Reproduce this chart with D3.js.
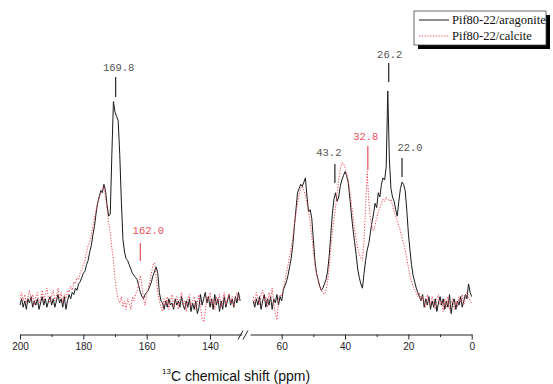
<!DOCTYPE html>
<html>
<head>
<meta charset="utf-8">
<script src="https://cdn.jsdelivr.net/npm/d3@7"></script>
<style>
  body { margin: 0; background: #fff; }
  svg { display: block; }
</style>
</head>
<body>
<svg id="chart" width="553" height="384"></svg>
<script>
// spectra sampled every 0.5 ppm; left block runs from 200 ppm down, right block ends at 0 ppm
const PPM_STEP = 0.5;
const LEFT_START = 200;

const aragoniteLeft = [
  -1, 2, -2, 1, -3, 2, 0, 3, -2, 1,
  -1, 2, -3, 0, 3, -1, 2, -2, 1, 3,
  -1, 2, -2, 1, 4, 0, 2, -2, 3, -3,
  1, 4, 2, 5, 4, 7, 6, 9, 10, 12,
  14, 15, 18, 20, 24, 27, 32, 36, 42, 47,
  50, 53, 52, 56, 53, 46, 41, 42, 70, 95,
  90, 88, 86, 70, 48, 30, 24, 21, 20, 18,
  16, 14, 13, 12, 11, 8, 5, 3, 2, 4,
  5, 6, 8, 10, 13, 15, 17, 14, 5, 1,
  0, -3, 1, -2, 2, -1, 0, -3, 2, -1,
  1, -2, 3, -1, -3, 1, -2, 2, -4, 0,
  -3, 1, -5, -2, 4, -1, 2, 5, 0, 3,
  -2, 2, -3, 4, -1, 2, -4, 1, -3, 3,
  -2, 1, 4, -1, 2, -2, 3, 0, 5, 1
];
const calciteLeft = [
  2, 5, 1, 4, 0, 3, 6, 1, 4, -1,
  3, 5, 0, 2, 6, 1, 4, 7, 2, 0,
  4, 6, 1, 3, 7, 2, 5, 0, 4, 2,
  6, 5, 8, 6, 10, 9, 12, 11, 14, 16,
  18, 20, 24, 27, 29, 32, 36, 40, 44, 47,
  50, 52, 54, 55, 50, 44, 38, 33, 26, 20,
  11, 6, 2, 0, 3, -2, 1, -3, 2, 0,
  -3, 3, 1, 4, 6, 9, 13, 8, 2, -1,
  4, 7, 10, 14, 18, 19, 12, 5, 1, -2,
  -4, 2, -1, 3, -3, 1, 4, -2, 0, 3,
  -3, 2, 5, -1, 1, -4, 2, 4, -2, 1,
  3, -3, 0, 4, -2, -7, -9, -4, 3, 1,
  5, -1, 2, -3, 3, 0, 4, -2, 1, 5,
  -1, 2, 4, 0, 3, -2, 2, 5, 1, 3
];
const aragoniteRight = [
  1, -2, 2, -1, 3, -3, 1, 4, -2, 2,
  -1, 3, -3, 2, 0, 4, -1, 3, 1, 6,
  8, 10, 13, 17, 21, 27, 36, 44, 52, 54,
  56, 55, 57, 59, 50, 43, 44, 40, 30, 20,
  14, 11, 8, 6, 7, 9, 11, 15, 22, 32,
  42, 49, 52, 48, 50, 55, 58, 60, 62, 60,
  57, 50, 42, 35, 29, 23, 16, 12, 9, 7,
  14, 20, 25, 28, 33, 38, 42, 47, 45, 52,
  50, 56, 59, 58, 64, 100, 68, 54, 50, 48,
  44, 41, 48, 54, 57, 56, 53, 44, 33, 25,
  18, 13, 10, 7, 5, 3, 1, 4, -2, 2,
  -1, 3, -3, 1, -2, 2, -4, 0, 3, -1,
  2, -3, 1, -2, 4, -5, 0, 2, -3, 1,
  -1, 3, -2, 1, 4, 2, 9, 5, 3
];
const calciteRight = [
  3, 0, 5, 2, -1, 4, 6, 1, 3, -2,
  5, 2, 7, 0, -5, -8, 2, 4, 3, 7,
  10, 14, 18, 22, 26, 31, 37, 42, 47, 51,
  54, 55, 53, 51, 47, 43, 38, 32, 24, 18,
  14, 11, 8, 6, 5, 4, 6, 10, 17, 26,
  33, 39, 45, 52, 58, 63, 66, 66, 64, 61,
  58, 53, 47, 41, 35, 30, 26, 23, 21, 20,
  30, 45, 62, 48, 40, 36, 34, 37, 40, 43,
  45, 47, 49, 48, 50, 49, 48, 49, 46, 43,
  41, 39, 36, 34, 31, 28, 25, 21, 17, 13,
  10, 8, 6, 5, 3, 5, 1, 3, 0, -2,
  4, 1, -1, 3, 0, -3, 2, 4, -1, 1,
  -4, 2, -2, 3, -3, 0, 2, -3, 1, -2,
  3, 0, 4, -1, 2, 5, 3, 1, 0
];

const leftTicks = [200, 180, 160, 140];
const leftMinor = [190, 170, 150];
const rightTicks = [60, 40, 20, 0];
const rightMinor = [50, 30, 10];

const peakPpm = [169.8, 162.0, 43.2, 32.8, 26.2, 22.0];
const peakLabels = ["169.8", "162.0", "43.2", "32.8", "26.2", "22.0"];
const peakSeries = ["aragonite", "calcite", "aragonite", "calcite", "aragonite", "aragonite"];

const legendLabels = ["Pif80-22/aragonite", "Pif80-22/calcite"];

// label placement (text offset, text baseline, marker line top/bottom)
const labelLayout = [
  { dx: 3, ty: 71, y1: 77, y2: 97 },
  { dx: 8, ty: 234, y1: 243, y2: 261 },
  { dx: -6, ty: 156, y1: 164, y2: 183 },
  { dx: -2, ty: 140, y1: 146, y2: 170 },
  { dx: 1, ty: 58, y1: 63, y2: 82 },
  { dx: 8, ty: 151, y1: 158, y2: 177 }
];

const colors = { aragonite: "#1a1a1a", calcite: "#ee4455" };
const axisY = 334.5;

const svg = d3.select("#chart");

const xLeft = d3.scaleLinear().domain([200, 130]).range([20, 241.7]);
const xRight = d3.scaleLinear().domain([70, 0]).range([250, 471.7]);
const y = d3.scaleLinear().domain([0, 100]).range([303, 91]);

function leftPoints(vals) {
  return vals.map((v, i) => [LEFT_START - i * PPM_STEP, v]);
}
function rightPoints(vals) {
  const n = vals.length;
  return vals.map((v, i) => [(n - 1 - i) * PPM_STEP, v]);
}

const lineL = d3.line().x(d => xLeft(d[0])).y(d => y(d[1]));
const lineR = d3.line().x(d => xRight(d[0])).y(d => y(d[1]));

const spectra = [
  { key: "aragonite", left: aragoniteLeft, right: aragoniteRight, dash: null },
  { key: "calcite", left: calciteLeft, right: calciteRight, dash: "1.2,1.6" }
];

const g = svg.append("g");
spectra.forEach(s => {
  g.append("path")
    .datum(leftPoints(s.left))
    .attr("d", lineL)
    .attr("fill", "none")
    .attr("stroke", colors[s.key])
    .attr("stroke-width", 1)
    .attr("stroke-dasharray", s.dash);
  g.append("path")
    .datum(rightPoints(s.right))
    .attr("d", lineR)
    .attr("fill", "none")
    .attr("stroke", colors[s.key])
    .attr("stroke-width", 1)
    .attr("stroke-dasharray", s.dash);
});

// x axes (two blocks with a break)
function drawAxis(scale, major, minor) {
  const ax = svg.append("g").attr("transform", "translate(0," + axisY + ")");
  ax.call(d3.axisBottom(scale).tickValues(major).tickSize(5).tickSizeOuter(0).tickPadding(3))
  ax.append("g").call(d3.axisBottom(scale).tickValues(minor).tickSize(2.5).tickFormat(""))
    .select(".domain").remove();
  ax.selectAll("text")
    .attr("font-family", "Liberation Sans, Arial, sans-serif")
    .attr("font-size", 10)
    .attr("fill", "#222");
  ax.selectAll("line, path").attr("stroke", "#222");
}
drawAxis(xLeft, leftTicks, leftMinor);
drawAxis(xRight, rightTicks, rightMinor);

// break marks
[240, 245].forEach(bx => {
  svg.append("line")
    .attr("x1", bx - 2).attr("y1", axisY + 5)
    .attr("x2", bx + 3).attr("y2", axisY - 4)
    .attr("stroke", "#222").attr("stroke-width", 1);
});

// axis title
const title = svg.append("text")
  .attr("x", 162).attr("y", 381)
  .attr("font-family", "Liberation Sans, Arial, sans-serif")
  .attr("font-size", 14)
  .attr("fill", "#111");
title.append("tspan").attr("font-size", 8).attr("dy", -7).text("13");
title.append("tspan").attr("dy", 7).text("C chemical shift (ppm)");

// peak labels
peakPpm.forEach((p, i) => {
  const px = p > 100 ? xLeft(p) : xRight(p);
  const L = labelLayout[i];
  const c = peakSeries[i] === "calcite" ? "#e8505e" : "#222";
  svg.append("line")
    .attr("x1", px).attr("x2", px)
    .attr("y1", L.y1).attr("y2", L.y2)
    .attr("stroke", c).attr("stroke-width", 1.2);
  svg.append("text")
    .attr("x", px + L.dx).attr("y", L.ty)
    .attr("text-anchor", "middle")
    .attr("font-family", "Liberation Mono, DejaVu Sans Mono, monospace")
    .attr("font-size", 10.5)
    .attr("fill", peakSeries[i] === "calcite" ? "#e8505e" : "#555")
    .text(peakLabels[i]);
});

// legend
const lg = svg.append("g").attr("transform", "translate(414,11)");
lg.append("rect").attr("x", 4).attr("y", 4).attr("width", 132).attr("height", 34).attr("fill", "#000");
lg.append("rect").attr("x", 0).attr("y", 0).attr("width", 132).attr("height", 34)
  .attr("fill", "#fff").attr("stroke", "#444").attr("stroke-width", 0.8);
legendLabels.forEach((t, i) => {
  const key = i === 0 ? "aragonite" : "calcite";
  const ly = 9 + i * 16;
  lg.append("line")
    .attr("x1", 5).attr("x2", 35).attr("y1", ly).attr("y2", ly)
    .attr("stroke", colors[key]).attr("stroke-width", 1)
    .attr("stroke-dasharray", key === "calcite" ? "1.2,1.6" : null);
  lg.append("text")
    .attr("x", 38).attr("y", ly + 4)
    .attr("font-family", "Liberation Serif, Times New Roman, serif")
    .attr("font-size", 12.5)
    .attr("fill", "#111")
    .text(t);
});
</script>
</body>
</html>
